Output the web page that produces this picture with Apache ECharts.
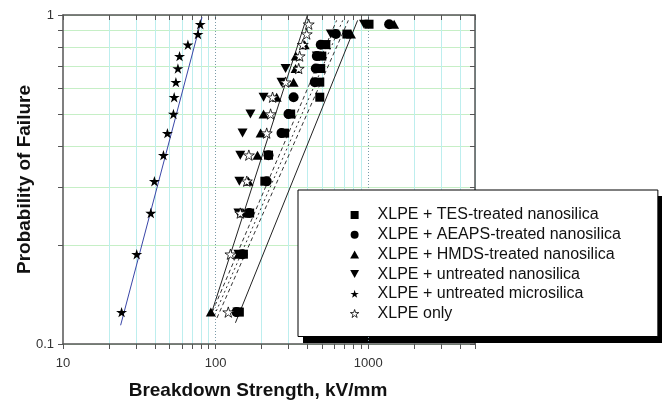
<!DOCTYPE html>
<html>
<head>
<meta charset="utf-8">
<script src="https://cdn.jsdelivr.net/npm/echarts@6/dist/echarts.min.js"></script>
<style>
  html, body { margin: 0; padding: 0; background: #fff; }
  #chart { width: 662px; height: 400px; }
</style>
</head>
<body>
<div id="chart"></div>
<script>
// probability of failure for each rank (same for every sample set)
var probs = [0.125, 0.1875, 0.25, 0.3125, 0.375, 0.4375, 0.5, 0.5625, 0.625, 0.6875, 0.75, 0.8125, 0.875, 0.9375];

// breakdown strength, kV/mm
var tesNano = [143, 152, 167, 210, 222, 283, 310, 481, 481, 488, 496, 527, 724, 1011];
var aeapsNano = [137, 150, 166, 216, 222, 270, 300, 324, 446, 453, 460, 488, 613, 1369];
var hmdsNano = [93, 141, 152, 164, 188, 197, 206, 251, 324, 334, 335, 383, 770, 1476];
var untreatedNano = [139, 141, 141, 143, 145, 150, 169, 206, 270, 287, 460, 527, 568, 937];
var untreatedMicro = [24.2, 30.4, 37.6, 39.7, 45.5, 48.3, 52.9, 53.5, 54.9, 56.6, 58.0, 65.8, 76.6, 79.3];
var xlpeOnly = [121, 125, 145, 160, 165, 216, 229, 236, 287, 350, 355, 372, 395, 407];

// Weibull fit lines (end points)
var fitMicro = [[23.85, 0.114], [81.4, 0.984]];
var fitLeft = [[93.3, 0.123], [399, 0.998]];
var fitRight = [[134.8, 0.116], [851, 0.963]];
var fitDash1 = [[95, 0.125], [620, 0.963]];
var fitDash2 = [[98, 0.122], [680, 0.963]];
var fitDash3 = [[102, 0.12], [740, 0.963]];

var xTicks = [10, 20, 30, 40, 50, 60, 70, 80, 90, 100, 200, 300, 400, 500, 600, 700, 800, 900, 1000, 2000, 3000, 4000, 5000];
var xLabels = [10, 100, 1000];
var yTicks = [0.1, 0.2, 0.3, 0.4, 0.5, 0.6, 0.7, 0.8, 0.9, 1];
var yLabels = [0.1, 1];

var names = [
  'XLPE + TES-treated nanosilica',
  'XLPE + AEAPS-treated nanosilica',
  'XLPE + HMDS-treated nanosilica',
  'XLPE + untreated nanosilica',
  'XLPE + untreated microsilica',
  'XLPE only'
];

var SQUARE = 'path://M0,0H10V10H0Z';
var TRI_UP = 'path://M5,0L10,9L0,9Z';
var TRI_DOWN = 'path://M0,0L10,0L5,9Z';
var STAR = 'path://M50,0L61,35L98,35L68,57L79,91L50,70L21,91L32,57L2,35L39,35Z';

var FONT = "'Liberation Sans', Arial, Helvetica, sans-serif";

function pairs(xs) {
  return xs.map(function (x, i) { return [x, probs[i]]; });
}

function scatter(name, xs, symbol, size, style) {
  return {
    name: name, type: 'scatter', data: pairs(xs),
    symbol: symbol, symbolSize: size, symbolKeepAspect: true,
    itemStyle: style || { color: '#000', opacity: 1 }, z: 5
  };
}

function fitLine(name, pts, color, type) {
  return {
    name: name, type: 'line', data: pts, symbol: 'none', silent: true,
    lineStyle: { color: color, width: 1, type: type || 'solid' }, z: 4
  };
}

function plain(v) { return String(v); }

var minorCyan = '#bdeeee';
var chart = echarts.init(document.getElementById('chart'));
chart.setOption({
  animation: false,
  backgroundColor: '#fff',
  grid: { left: 63, top: 15, right: 187, bottom: 56, outerBoundsMode: 'none' },
  textStyle: { fontFamily: FONT },
  graphic: [{
    // legend drop shadow
    type: 'rect', left: 303, top: 196, z: 1,
    shape: { width: 362, height: 147 },
    style: { fill: '#000' }
  }],
  xAxis: [{
    type: 'log', logBase: 10, min: 10, max: 5000,
    name: 'Breakdown Strength, kV/mm', nameLocation: 'middle', nameGap: 37, nameMoveOverlap: false,
    nameTextStyle: { fontFamily: FONT, fontSize: 19, fontWeight: 'bold', color: '#111', padding: [0, 22, 0, 0] },
    axisLine: { lineStyle: { color: '#555', width: 1.5 } },
    axisTick: { customValues: xTicks, inside: false, length: 5, lineStyle: { color: '#555' } },
    axisLabel: { customValues: xLabels, formatter: plain, margin: 13, fontSize: 13, color: '#333', fontFamily: FONT },
    splitLine: { show: true, lineStyle: { color: ['transparent', minorCyan, minorCyan, minorCyan, minorCyan, minorCyan, minorCyan, minorCyan, minorCyan], width: 1 } }
  }, {
    type: 'log', logBase: 10, min: 10, max: 5000, position: 'top',
    axisLine: { lineStyle: { color: '#555', width: 1.5 } },
    axisTick: { customValues: xTicks, inside: true, length: 5, lineStyle: { color: '#555' } },
    axisLabel: { show: false },
    splitLine: { show: false }
  }],
  yAxis: [{
    type: 'log', logBase: 10, min: 0.1, max: 1,
    name: 'Probability of Failure', nameLocation: 'middle', nameGap: 29, nameMoveOverlap: false,
    nameTextStyle: { fontFamily: FONT, fontSize: 19, fontWeight: 'bold', color: '#111' },
    axisLine: { lineStyle: { color: '#555', width: 1.5 } },
    axisTick: { customValues: yTicks, inside: false, length: 5, lineStyle: { color: '#555' } },
    axisLabel: { customValues: yLabels, formatter: plain, margin: 9, fontSize: 13, color: '#333', fontFamily: FONT },
    splitLine: { show: true, lineStyle: { color: '#c6efc6', width: 1 } }
  }, {
    type: 'log', logBase: 10, min: 0.1, max: 1, position: 'right',
    axisLine: { lineStyle: { color: '#555', width: 1.5 } },
    axisTick: { customValues: yTicks, inside: true, length: 5, lineStyle: { color: '#555' } },
    axisLabel: { show: false },
    splitLine: { show: false }
  }],
  legend: {
    data: [
      { name: names[0], icon: SQUARE },
      { name: names[1], icon: 'circle' },
      { name: names[2], icon: TRI_UP },
      { name: names[3], icon: TRI_DOWN },
      { name: names[4], icon: STAR },
      { name: names[5], icon: STAR, itemStyle: { color: '#fff', borderColor: '#000', borderWidth: 0.8 } }
    ],
    orient: 'vertical', left: 298, top: 190, z: 6,
    itemWidth: 36, itemHeight: 8, itemGap: 3.7, symbolKeepAspect: true,
    padding: [17, 37, 15, 52],
    backgroundColor: '#fff', borderColor: '#000', borderWidth: 1,
    selectedMode: false,
    textStyle: { fontFamily: FONT, fontSize: 16, lineHeight: 16, color: '#111' }
  },
  series: [
    fitLine('fit micro', fitMicro, '#3a46a8'),
    fitLine('fit left', fitLeft, '#222'),
    fitLine('fit right', fitRight, '#222'),
    fitLine('fit d1', fitDash1, '#333', [4, 3]),
    fitLine('fit d2', fitDash2, '#333', [2, 3]),
    fitLine('fit d3', fitDash3, '#333', [4, 3]),
    scatter(names[0], tesNano, SQUARE, 9),
    scatter(names[1], aeapsNano, 'circle', 10),
    scatter(names[2], hmdsNano, TRI_UP, 10),
    scatter(names[3], untreatedNano, TRI_DOWN, 10),
    scatter(names[4], untreatedMicro, STAR, 11),
    scatter(names[5], xlpeOnly, STAR, 11, { color: '#fff', borderColor: '#000', borderWidth: 0.8, opacity: 1 }),
    {
      name: 'decades', type: 'line', data: [], silent: true,
      markLine: {
        silent: true, symbol: 'none', label: { show: false },
        lineStyle: { color: '#7a9aa8', type: [1, 2], width: 1 },
        data: [{ xAxis: 100 }, { xAxis: 1000 }]
      }
    }
  ]
});
</script>
</body>
</html>
